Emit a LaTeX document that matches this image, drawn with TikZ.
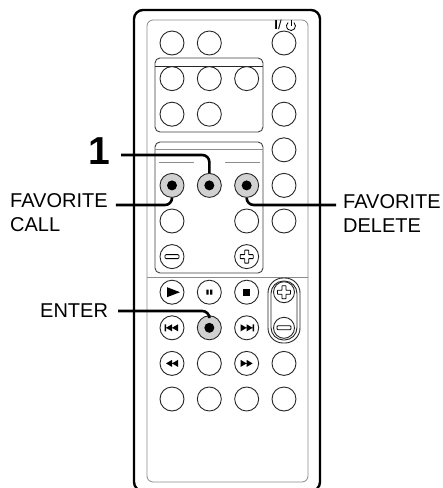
\documentclass[tikz,border=0pt]{standalone}
\usepackage{fontspec}
\setmainfont{Liberation Sans}
\usepackage{tikz}

\newcommand{\plusmark}[1]{\draw[shift={(#1)}, line width=0.8pt, rounded corners=0.4pt] (-2,-6.5) -- (2,-6.5) -- (2,-2) -- (6.5,-2) -- (6.5,2) -- (2,2) -- (2,6.5) -- (-2,6.5) -- (-2,2) -- (-6.5,2) -- (-6.5,-2) -- (-2,-2) -- cycle;}
\newcommand{\minusmark}[1]{\draw[shift={(#1)}, line width=0.8pt, rounded corners=1pt] (-7,-2) rectangle (7,2);}

\begin{document}
\begin{tikzpicture}[x=1pt, y=-1pt]
			\tikzstyle{Body}	= [line width=2.4pt, rounded corners=9pt]
			\tikzstyle{Panel}	= [black!45, line width=0.8pt, rounded corners=6pt]
			\tikzstyle{Box}		= [black!75, line width=0.9pt, rounded corners=5pt]
			\tikzstyle{Key}		= [circle, draw=black!85, line width=0.9pt, fill=white, minimum size=24pt, inner sep=0pt]
			\tikzstyle{Hot}		= [fill=black!18]
			\tikzstyle{Lead}	= [line width=2.6pt, rounded corners=7pt]
			\tikzstyle{Label}	= [inner sep=0pt, font=\fontsize{20}{24}\selectfont, align=left]

			\useasboundingbox (0,0) rectangle (443,488);
			\fill[white] (0,0) rectangle (443,488);

			% case and panels
			\draw[Body] (134,10) rectangle (320,491);
			\draw[Panel] (147,20) rectangle (308,482);
			\draw[Box] (155,58) rectangle (263,132);
			\draw[black!85, line width=0.9pt] (155,66) -- (263,66);
			\draw[Box] (155,142) rectangle (263,273);
			\draw[black!45, line width=0.8pt] (155,149) -- (263,149);
			\draw[black!45, line width=0.8pt] (159,162) -- (194,162) (225,162) -- (260,162);
			\draw[black!45, line width=0.8pt] (147,277) -- (308,277);
			\draw[black!85, line width=0.9pt, rounded corners=15pt] (268,278) rectangle (300,343);
			\draw[black!85, line width=0.9pt, rounded corners=12.5pt] (271,281) rectangle (297,340);

			% keys
			\foreach \c/\r in {1/1, 2/1, 4/1, 1/2, 2/2, 3/2, 4/2, 1/3, 2/3, 4/3, 4/4, 4/5, 1/6, 3/6, 4/6, 1/7, 3/7, 1/8, 2/8, 3/8, 1/9, 3/9, 1/10, 2/10, 3/10, 4/10, 1/11, 2/11, 3/11, 4/11}
				\node (b\c-\r) at ({172+37.33*(\c-1)}, {43+35.6*(\r-1)}) [Key] {};
			\foreach \c/\r in {1/5, 2/5, 3/5, 2/9}
				\node (b\c-\r) at ({172+37.33*(\c-1)}, {43+35.6*(\r-1)}) [Key][Hot] {};
			\foreach \r in {8, 9}
				\node (b4-\r) at (284, {43+35.6*(\r-1)}) [Key, minimum size=21pt] {};

			% key marks
			\minusmark{b1-7} \plusmark{b3-7}
			\plusmark{b4-8} \minusmark{b4-9}
			\fill[shift={(b1-8)}] (-5,-5) -- (8,0) -- (-5,5) -- cycle;
			\fill[shift={(b2-8)}] (-3,-2.5) rectangle (-0.8,2.5) (0.8,-2.5) rectangle (3,2.5);
			\fill[shift={(b3-8)}] (-3.5,-3.5) rectangle (3.5,3.5);
			\fill[shift={(b1-9)}] (-7.5,-3.5) rectangle (-6,3.5) (-6,0) -- (0,-3.5) -- (0,3.5) -- cycle (0,0) -- (6,-3.5) -- (6,3.5) -- cycle;
			\fill[shift={(b3-9)}] (7.5,-3.5) rectangle (6,3.5) (6,0) -- (0,-3.5) -- (0,3.5) -- cycle (0,0) -- (-6,-3.5) -- (-6,3.5) -- cycle;
			\fill[shift={(b1-10)}] (-6,0) -- (0,-3.5) -- (0,3.5) -- cycle (0,0) -- (6,-3.5) -- (6,3.5) -- cycle;
			\fill[shift={(b3-10)}] (6,0) -- (0,-3.5) -- (0,3.5) -- cycle (0,0) -- (-6,-3.5) -- (-6,3.5) -- cycle;
			\node (pwr) at (278,25) [inner sep=0pt, font=\fontsize{13}{13}\selectfont] {\textbf{I}/};
			\draw[line width=0.8pt] (291,26) ++(-50:4.5) arc[start angle=-50, end angle=230, radius=4.5];
			\draw[line width=0.8pt] (291,20) -- (291,26);

			% labels
			\node (one) at (99,151) [Label, font=\fontsize{39}{39}\selectfont\bfseries] {1};
			\node (call) at (10,213) [Label, anchor=west] {FAVORITE\\CALL};
			\node (del) at (343,214) [Label, anchor=west] {FAVORITE\\DELETE};
			\node (enter) at (40,311) [Label, anchor=west] {ENTER};

			\draw[Lead] ([xshift=11pt, yshift=-4pt]one.east) -| (b2-5);
			\draw[Lead] ([xshift=8pt, yshift=8pt]call.east) -| (b1-5);
			\draw[Lead] (b3-5) |- ([xshift=-7pt, yshift=9pt]del.west);
			\draw[Lead] ([xshift=10pt]enter.east) -| (b2-9);
			\foreach \k in {b1-5, b2-5, b3-5, b2-9}
				\fill (\k) circle (5);
		\end{tikzpicture}
\end{document}
